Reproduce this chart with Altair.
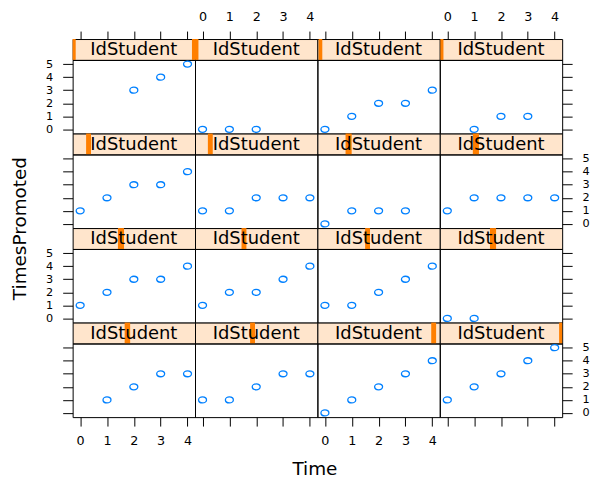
import altair as alt
import pandas as pd

FONT = "DejaVu Sans"
POINT_COLOR = "#0080ff"
STRIP_FILL = "#ffe5cc"
STRIP_BAR = "#ff7f00"
STRIP_LABEL = "IdStudent"
X_TITLE = "Time"
Y_TITLE = "TimesPromoted"

PANEL_W = 123
PANEL_H = 74
STRIP_H = 21
Y_LABEL_SIZE = 11.3

time_points = [0, 1, 2, 3, 4]
x_ticks = [0, 1, 2, 3, 4]
y_ticks = [0, 1, 2, 3, 4, 5]

# TimesPromoted per panel: top row first, left to right (None = not observed)
times_promoted = [
    [None, None, 3, 4, 5],
    [0, 0, 0, None, None],
    [0, 1, 2, 2, 3],
    [None, 0, 1, 1, None],
    [1, 2, 3, 3, 4],
    [1, 1, 2, 2, 2],
    [0, 1, 1, 1, None],
    [1, 2, 2, 2, 2],
    [1, 2, 3, 3, 4],
    [1, 2, 2, 3, 4],
    [1, 1, 2, 3, 4],
    [0, 0, None, None, None],
    [None, 1, 2, 3, 3],
    [1, 1, 2, 3, 3],
    [0, 1, 2, 3, 4],
    [1, 2, 3, 4, 5],
]

# IdStudent interval shown in each strip, as start/end fractions of the strip
strip_start = [
    [0.0, 0.975], [0.0], [0.01], [0.005],
    [0.11], [0.105], [0.23], [0.27],
    [0.37], [0.38], [0.39], [0.41],
    [0.425], [0.45], [0.93], [0.975],
]
strip_end = [
    [0.025, 1.0], [0.028], [0.04], [0.03],
    [0.15], [0.145], [0.28], [0.32],
    [0.42], [0.42], [0.43], [0.46],
    [0.47], [0.49], [0.97], [1.0],
]

x_scale = dict(domain=[-0.28, 4.28], nice=False, zero=False)
y_scale = dict(domain=[-0.32, 5.32], nice=False, zero=False)

# open ellipse marker
ELLIPSE = "M-1,0A1,0.75,0,1,0,1,0A1,0.75,0,1,0,-1,0Z"


def strip_chart(p):
    bars = pd.DataFrame({"lo": strip_start[p], "hi": strip_end[p]})
    names = pd.DataFrame({"name": [STRIP_LABEL]})
    strip_scale = alt.Scale(domain=[0, 1], nice=False, zero=False)
    bar = alt.Chart(bars).mark_rect(color=STRIP_BAR).encode(
        x=alt.X("lo:Q", scale=strip_scale, axis=None),
        x2="hi:Q",
        y=alt.value(0),
        y2=alt.value(STRIP_H),
    )
    label = alt.Chart(names).mark_text(font=FONT, fontSize=18, color="black",
                                       align="center", baseline="middle").encode(
        x=alt.datum(0.5),
        y=alt.value(STRIP_H / 2 + 1),
        text="name:N",
    )
    return alt.layer(bar, label).properties(
        width=PANEL_W, height=STRIP_H,
        view=alt.ViewBackground(fill=STRIP_FILL, stroke="black", strokeWidth=1),
    )


def x_axis(r, c):
    if r == 0:
        return alt.Axis(orient="top", offset=STRIP_H, values=x_ticks, labels=(c % 2 == 1),
                        tickSize=8, labelPadding=8, title=None)
    if r == 3:
        kw = dict(orient="bottom", values=x_ticks, labels=(c % 2 == 0),
                  tickSize=9, labelPadding=9)
        if c == 1:
            kw.update(title=X_TITLE, titleX=120, titleY=52,
                      titleAlign="center", titleBaseline="middle")
        else:
            kw.update(title=None)
        return alt.Axis(**kw)
    return None


def y_axis(r, c):
    if c == 0:
        kw = dict(orient="left", values=y_ticks, labels=(r % 2 == 0),
                  tickSize=10, labelPadding=10, labelFontSize=Y_LABEL_SIZE)
        if r == 1:
            kw.update(title=Y_TITLE, titleAngle=270, titleX=-53, titleY=PANEL_H,
                      titleAlign="center", titleBaseline="middle")
        else:
            kw.update(title=None)
        return alt.Axis(**kw)
    if c == 3:
        return alt.Axis(orient="right", values=y_ticks, labels=(r % 2 == 1),
                        tickSize=10, labelPadding=10, labelFontSize=Y_LABEL_SIZE,
                        title=None)
    return None


def panel_chart(p, r, c):
    df = pd.DataFrame({"Time": time_points, "TimesPromoted": times_promoted[p]}).dropna()
    return alt.Chart(df).mark_point(
        shape=ELLIPSE, size=64, filled=False, color=POINT_COLOR, strokeWidth=1.3, opacity=1
    ).encode(
        x=alt.X("Time:Q", scale=alt.Scale(**x_scale), axis=x_axis(r, c)),
        y=alt.Y("TimesPromoted:Q", scale=alt.Scale(**y_scale), axis=y_axis(r, c)),
    ).properties(width=PANEL_W, height=PANEL_H)


charts = []
for r in range(4):
    for c in range(4):
        charts.append(strip_chart(r * 4 + c))
    for c in range(4):
        charts.append(panel_chart(r * 4 + c, r, c))

chart = alt.concat(*charts, columns=4, spacing=0, bounds="flush").properties(
    padding={"left": 10, "top": 8, "right": 5, "bottom": 5},
    background="white",
).configure_view(
    stroke="black", strokeWidth=1
).configure_axis(
    grid=False, domain=False, labelOverlap=False, labelFlush=False,
    labelFont=FONT, labelFontSize=12.8, labelColor="black",
    tickColor="black", tickWidth=1,
    titleFont=FONT, titleFontSize=18.5, titleFontWeight="normal", titleColor="black",
)

chart.save("out.html", embed_options={"renderer": "svg", "actions": False})
